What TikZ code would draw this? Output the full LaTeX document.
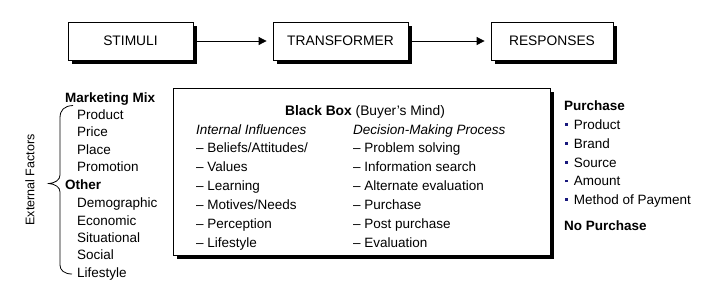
\documentclass[tikz,border=0pt]{standalone}
\usepackage{fontspec}
\setmainfont{Liberation Sans}
\usetikzlibrary{arrows.meta,shadows}
\definecolor{bulblue}{RGB}{25,25,125}
\newcommand\rbul{\textcolor{bulblue}{\rule[3.2pt]{2.6pt}{2.6pt}}\hspace{6pt}}
\tikzset{
  topbox/.style={draw, line width=0.8pt, fill=white, minimum height=38pt, inner sep=0pt,
    font=\fontsize{13.8}{16}\selectfont,
    drop shadow={shadow xshift=3.5pt, shadow yshift=-3.5pt, fill=black, opacity=1}},
  blackbox/.style={draw, line width=0.7pt, fill=white, minimum width=377pt, minimum height=167pt,
    drop shadow={shadow xshift=4pt, shadow yshift=-4pt, fill=black, opacity=1}},
  arr/.style={line width=0.8pt, -{Triangle[length=8pt,width=8pt]}, shorten >=6pt, shorten <=3pt},
  lbl/.style={inner sep=0pt, anchor=base west, font=\fontsize{13.5}{16}\selectfont},
  blbl/.style={lbl, font=\fontsize{13.5}{16}\selectfont\bfseries},
  brace/.style={line width=0.8pt}
}
\begin{document}
\begin{tikzpicture}[x=1pt,y=-1pt]
\useasboundingbox (0,0) rectangle (728,285);
% top row
\node[topbox, minimum width=125pt] (stim) at (130.5,41) {STIMULI};
\node[topbox, minimum width=135pt] (trans) at (340.5,41) {TRANSFORMER};
\node[topbox, minimum width=122pt] (resp) at (552,41) {RESPONSES};
\draw[arr] (stim) -- (trans);
\draw[arr] (trans) -- (resp);

% external factors
\node[inner sep=0pt, rotate=90, font=\fontsize{12.5}{14}\selectfont] (ext) at (30,180) {External Factors};
\draw[brace] (73,105.5) .. controls (64,106) and (60,110) .. (60,118)
  -- (60,175) .. controls (60,180) and (55,183) .. (49,183.5)
  .. controls (55,184) and (60,187) .. (60,192)
  -- (60,265) .. controls (60,270) and (64,274) .. (72,274);

\node[blbl] (mm) at (65,102) {Marketing Mix};
\node[lbl] (l1) at (77,119) {Product};
\node[lbl] (l2) at (77,136.5) {Price};
\node[lbl] (l3) at (77,154) {Place};
\node[lbl] (l4) at (77,171.5) {Promotion};
\node[blbl] (oth) at (65,189) {Other};
\node[lbl] (l5) at (77,207.5) {Demographic};
\node[lbl] (l6) at (77,225) {Economic};
\node[lbl] (l7) at (77,242) {Situational};
\node[lbl] (l8) at (77,259) {Social};
\node[lbl] (l9) at (77,277) {Lifestyle};

% black box
\node[blackbox] (bb) at (361.5,171.5) {};
\node[inner sep=0pt, anchor=base, font=\fontsize{13.8}{16}\selectfont] (bbt) at (365,115) {\textbf{Black Box} (Buyer's Mind)};
\node[lbl, font=\fontsize{13.5}{16}\selectfont\itshape] (ii) at (196,134) {Internal Influences};
\node[lbl] (i1) at (196,152) {– Beliefs/Attitudes/};
\node[lbl] (i2) at (196,171) {– Values};
\node[lbl] (i3) at (196,190) {– Learning};
\node[lbl] (i4) at (196,209) {– Motives/Needs};
\node[lbl] (i5) at (196,228) {– Perception};
\node[lbl] (i6) at (196,247) {– Lifestyle};
\node[lbl, font=\fontsize{13.5}{16}\selectfont\itshape] (dm) at (353,134) {Decision-Making Process};
\node[lbl] (d1) at (353,152) {– Problem solving};
\node[lbl] (d2) at (353,171) {– Information search};
\node[lbl] (d3) at (353,190) {– Alternate evaluation};
\node[lbl] (d4) at (353,209) {– Purchase};
\node[lbl] (d5) at (353,228) {– Post purchase};
\node[lbl] (d6) at (353,247) {– Evaluation};

% responses
\node[blbl] (pur) at (564,110) {Purchase};
\node[lbl] (r1) at (565,129) {\rbul Product};
\node[lbl] (r2) at (565,148) {\rbul Brand};
\node[lbl] (r3) at (565,167) {\rbul Source};
\node[lbl] (r4) at (565,185.5) {\rbul Amount};
\node[lbl] (r5) at (565,204) {\rbul Method of Payment};
\node[blbl] (npur) at (564,230) {No Purchase};
\end{tikzpicture}
\end{document}
